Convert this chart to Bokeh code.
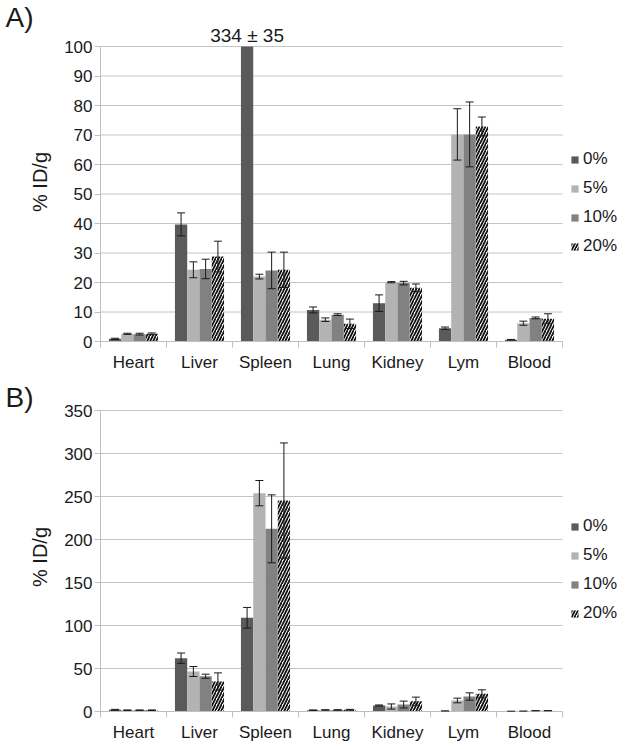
import numpy as np
from bokeh.plotting import figure
from bokeh.models import (Range1d, FixedTicker, ColumnDataSource, Whisker, TeeHead,
                          Legend, LegendItem, Label, CustomJSTickFormatter)
from bokeh.layouts import column
from bokeh.embed import file_html
from bokeh.resources import INLINE

categories = ["Heart", "Liver", "Spleen", "Lung", "Kidney", "Lym", "Blood"]
series = ["0%", "5%", "10%", "20%"]

# Panel A values (% ID/g) and errors
a_0 = [0.9, 39.7, 334, 10.7, 13.0, 4.5, 0.6]
a_0_err = [0.2, 3.9, 35, 1.0, 2.8, 0.4, 0.1]
a_5 = [2.6, 24.3, 22.0, 7.4, 20.1, 70.2, 6.2]
a_5_err = [0.2, 2.7, 0.8, 0.6, 0.2, 8.7, 0.7]
a_10 = [2.5, 24.6, 24.1, 9.1, 19.8, 70.2, 8.0]
a_10_err = [0.3, 3.3, 6.2, 0.3, 0.6, 11.0, 0.3]
a_20 = [2.6, 28.8, 24.3, 6.0, 18.2, 72.9, 7.7]
a_20_err = [0.3, 5.2, 6.0, 1.6, 1.3, 3.2, 1.7]

# Panel B values (% ID/g) and errors
b_0 = [2.0, 62.0, 109.0, 1.5, 7.0, 0.5, 0.2]
b_0_err = [0.5, 6.0, 12.0, 0.3, 0.6, 0.2, 0.1]
b_5 = [1.5, 46.5, 253.9, 1.8, 5.8, 12.8, 0.3]
b_5_err = [0.3, 5.8, 14.7, 0.3, 3.0, 2.7, 0.1]
b_10 = [1.5, 41.0, 212.4, 1.8, 8.1, 17.4, 0.8]
b_10_err = [0.3, 2.4, 39.5, 0.3, 4.0, 4.3, 0.1]
b_20 = [1.5, 34.9, 245.3, 2.0, 12.0, 20.5, 0.8]
b_20_err = [0.3, 10.0, 67.0, 0.5, 4.7, 4.7, 0.2]

a_ticks = [0, 10, 20, 30, 40, 50, 60, 70, 80, 90, 100]
b_ticks = [0, 50, 100, 150, 200, 250, 300, 350]

FONT = "Liberation Sans"
TXT = "#1a1a1a"
AXC = "#bfbfbf"
colors = ["#5a5a5a", "#b3b3b3", "#818181", "#ffffff"]
BAR_W = 0.186

FIG_W = 629
LEFT = 100
DATA_W = 462   # pixel width of the category area
TOP = 22       # height of the title strip


def make_panel(vals, errs, ticks, panel_text, height, data_h, bottom, legend_y):
    ymax = ticks[-1]
    ncat = len(categories)
    frame_w = FIG_W - LEFT
    frame_h = height - bottom - TOP
    x_end = ncat * frame_w / DATA_W
    y_end = ymax * frame_h / data_h
    p = figure(width=FIG_W, height=height, output_backend="svg", toolbar_location=None,
               x_range=Range1d(0, x_end), y_range=Range1d(0, y_end),
               min_border_left=LEFT, min_border_right=0, min_border_top=TOP,
               min_border_bottom=bottom, title=panel_text)
    p.title.align = "left"
    p.title.offset = -(LEFT - 5)
    p.title.standoff = -20
    p.title.vertical_align = "bottom"
    p.title.text_font = FONT
    p.title.text_font_size = "28px"
    p.title.text_font_style = "normal"
    p.title.text_color = TXT
    p.outline_line_color = None
    p.background_fill_color = "white"
    p.border_fill_color = "white"
    p.xgrid.grid_line_color = None
    p.ygrid.grid_line_color = None

    # horizontal gridlines over the category area
    p.segment(x0=[0] * len(ticks), x1=[ncat] * len(ticks), y0=ticks, y1=ticks,
              line_color="#c4c4c4", line_width=1)

    idx = np.arange(ncat) + 0.5
    items = []
    for i, (name, v, e) in enumerate(zip(series, vals, errs)):
        x = idx + (i - 1.5) * BAR_W
        v = np.array(v, dtype=float)
        e = np.array(e, dtype=float)
        src = ColumnDataSource(dict(x=x, top=np.minimum(v, ymax)))
        if i == 3:
            r = p.vbar(x="x", top="top", width=BAR_W, source=src, fill_color="white",
                       line_color=None, hatch_pattern="/", hatch_color="#111111",
                       hatch_weight=1.8, hatch_scale=6)
        else:
            r = p.vbar(x="x", top="top", width=BAR_W, source=src, fill_color=colors[i],
                       line_color=None)
        items.append(LegendItem(label=name, renderers=[r]))
        keep = v <= ymax
        esrc = ColumnDataSource(dict(x=x[keep], upper=(v + e)[keep], lower=(v - e)[keep]))
        w = Whisker(source=esrc, base="x", upper="upper", lower="lower", level="overlay",
                    line_color=TXT, line_width=1,
                    upper_head=TeeHead(size=8, line_color=TXT, line_width=1),
                    lower_head=TeeHead(size=8, line_color=TXT, line_width=1))
        p.add_layout(w)
        # off-scale value written above the clipped bar
        for j in np.where(~keep)[0]:
            p.add_layout(Label(x=x[j], y=ymax, y_offset=1, text=f"{v[j]:g} \u00b1 {e[j]:g}",
                               text_align="center", text_baseline="bottom",
                               text_font=FONT, text_font_size="19px", text_color=TXT))

    # axes
    p.yaxis.bounds = (0, ymax)
    p.yaxis.ticker = FixedTicker(ticks=ticks)
    p.yaxis.axis_label = "% ID/g"
    p.yaxis.axis_label_text_font = FONT
    p.yaxis.axis_label_text_font_size = "20px"
    p.yaxis.axis_label_text_font_style = "normal"
    p.yaxis.axis_label_text_color = TXT
    p.yaxis.axis_label_standoff = 10
    p.yaxis.major_label_text_font = FONT
    p.yaxis.major_label_text_font_size = "17px"
    p.yaxis.major_label_text_color = TXT
    p.yaxis.major_tick_in = 0
    p.yaxis.major_tick_out = 6
    p.yaxis.major_tick_line_color = AXC
    p.yaxis.minor_tick_line_color = None
    p.yaxis.axis_line_color = AXC
    p.yaxis.major_label_standoff = 2

    p.xaxis.bounds = (0, ncat)
    p.xaxis.ticker = FixedTicker(ticks=list(idx), minor_ticks=list(range(ncat + 1)))
    p.xaxis.formatter = CustomJSTickFormatter(args=dict(cats=categories),
                                              code="return cats[Math.floor(tick)];")
    p.xaxis.major_tick_line_color = None
    p.xaxis.major_tick_in = 0
    p.xaxis.major_tick_out = 0
    p.xaxis.minor_tick_in = 0
    p.xaxis.minor_tick_out = 6
    p.xaxis.minor_tick_line_color = AXC
    p.xaxis.axis_line_color = AXC
    p.xaxis.major_label_text_font = FONT
    p.xaxis.major_label_text_font_size = "17px"
    p.xaxis.major_label_text_color = TXT
    p.xaxis.major_label_standoff = 5

    legend = Legend(items=items, location=(DATA_W + 8, legend_y), glyph_width=9,
                    glyph_height=9, label_height=20, spacing=9, label_standoff=4,
                    margin=0, padding=3, border_line_color=None, background_fill_alpha=0,
                    label_text_font=FONT, label_text_font_size="17px",
                    label_text_color=TXT)
    p.add_layout(legend)
    return p


pa = make_panel([a_0, a_5, a_10, a_20], [a_0_err, a_5_err, a_10_err, a_20_err],
                a_ticks, "A)", 380, 295, 39, 85)
pb = make_panel([b_0, b_5, b_10, b_20], [b_0_err, b_5_err, b_10_err, b_20_err],
                b_ticks, "B)", 369, 301, 38, 88)

layout = column(pa, pb)
open("out.html", "w").write(file_html(layout, INLINE))
